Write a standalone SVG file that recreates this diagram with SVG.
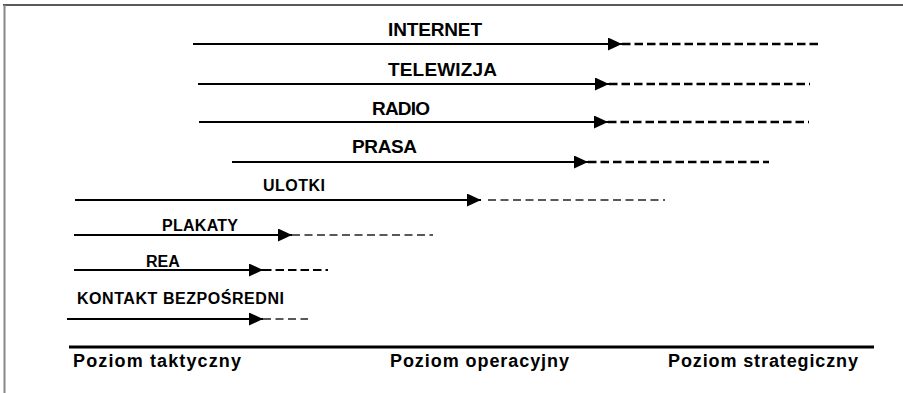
<svg xmlns="http://www.w3.org/2000/svg" width="903" height="393" viewBox="0 0 903 393">
<style>
.lbl{font-family:"Liberation Sans",Arial,sans-serif;font-weight:bold;fill:#000}
.big{font-size:19px}
.small{font-size:16px}
.axis{font-size:18px}
.solid{stroke:#000;stroke-width:2;fill:none}
.dashB{stroke:#000;stroke-width:2.5;stroke-dasharray:8.5 4;fill:none}
.dashT{stroke:#222;stroke-width:1.4;stroke-dasharray:8 4.5;fill:none}
</style>
<defs>
<marker id="ah" markerUnits="userSpaceOnUse" markerWidth="14" markerHeight="13" refX="14" refY="6.5" orient="auto">
<path d="M0,0 L14,6.5 L0,13 z" fill="#000"/>
</marker>
</defs>
<rect width="903" height="393" fill="#fff"/>
<g id="frame">
<line x1="3" y1="5" x2="903" y2="5" stroke="#222" stroke-width="1.5"/>
<line x1="4.5" y1="5" x2="4.5" y2="393" stroke="#888" stroke-width="2"/>
</g>
<g id="internet"><text class="lbl big" x="388" y="36" textLength="94">INTERNET</text></g>
<g id="telewizja"><text class="lbl big" x="388" y="76" textLength="109">TELEWIZJA</text></g>
<g id="radio"><text class="lbl big" x="372" y="115" textLength="58">RADIO</text></g>
<g id="prasa"><text class="lbl big" x="352" y="153" textLength="65">PRASA</text></g>
<g id="ulotki"><text class="lbl small" x="263" y="191" textLength="62">ULOTKI</text></g>
<g id="plakaty"><text class="lbl small" x="162" y="231" textLength="76">PLAKATY</text></g>
<g id="rea"><text class="lbl small" x="146" y="267">REA</text></g>
<g id="kontakt"><text class="lbl small" x="77" y="304" textLength="207">KONTAKT BEZPOŚREDNI</text></g>
<g id="axis">
<line x1="69" y1="347" x2="874" y2="347" stroke="#000" stroke-width="3"/>
<text class="lbl axis" x="73" y="367" textLength="168" lengthAdjust="spacing">Poziom  taktyczny</text>
<text class="lbl axis" x="390" y="367" textLength="179" lengthAdjust="spacing">Poziom  operacyjny</text>
<text class="lbl axis" x="668" y="367" textLength="190" lengthAdjust="spacing">Poziom  strategiczny</text>
</g>
<g id="connectors">
<line class="solid" x1="193" y1="44" x2="622" y2="44" marker-end="url(#ah)"/>
<line class="dashB" x1="622" y1="44" x2="822" y2="44"/>
<line class="solid" x1="198" y1="84" x2="609" y2="84" marker-end="url(#ah)"/>
<line class="dashB" x1="609" y1="84" x2="810" y2="84"/>
<line class="solid" x1="199" y1="122" x2="608" y2="122" marker-end="url(#ah)"/>
<line class="dashB" x1="608" y1="122" x2="809" y2="122"/>
<line class="solid" x1="232" y1="162" x2="588" y2="162" marker-end="url(#ah)"/>
<line class="dashB" x1="588" y1="162" x2="769" y2="162"/>
<line class="solid" x1="75" y1="200" x2="481" y2="200" marker-end="url(#ah)"/>
<line class="dashT" x1="488" y1="200" x2="665" y2="200"/>
<line class="solid" x1="74" y1="235" x2="292" y2="235" marker-end="url(#ah)"/>
<line class="dashT" x1="292" y1="235" x2="433" y2="235"/>
<line class="solid" x1="74" y1="270" x2="263" y2="270" marker-end="url(#ah)"/>
<line class="dashB" x1="263" y1="270" x2="328" y2="270" style="stroke-width:2"/>
<line class="solid" x1="67" y1="319" x2="263" y2="319" marker-end="url(#ah)"/>
<line class="dashT" x1="263" y1="319" x2="308" y2="319"/>
</g>
</svg>
